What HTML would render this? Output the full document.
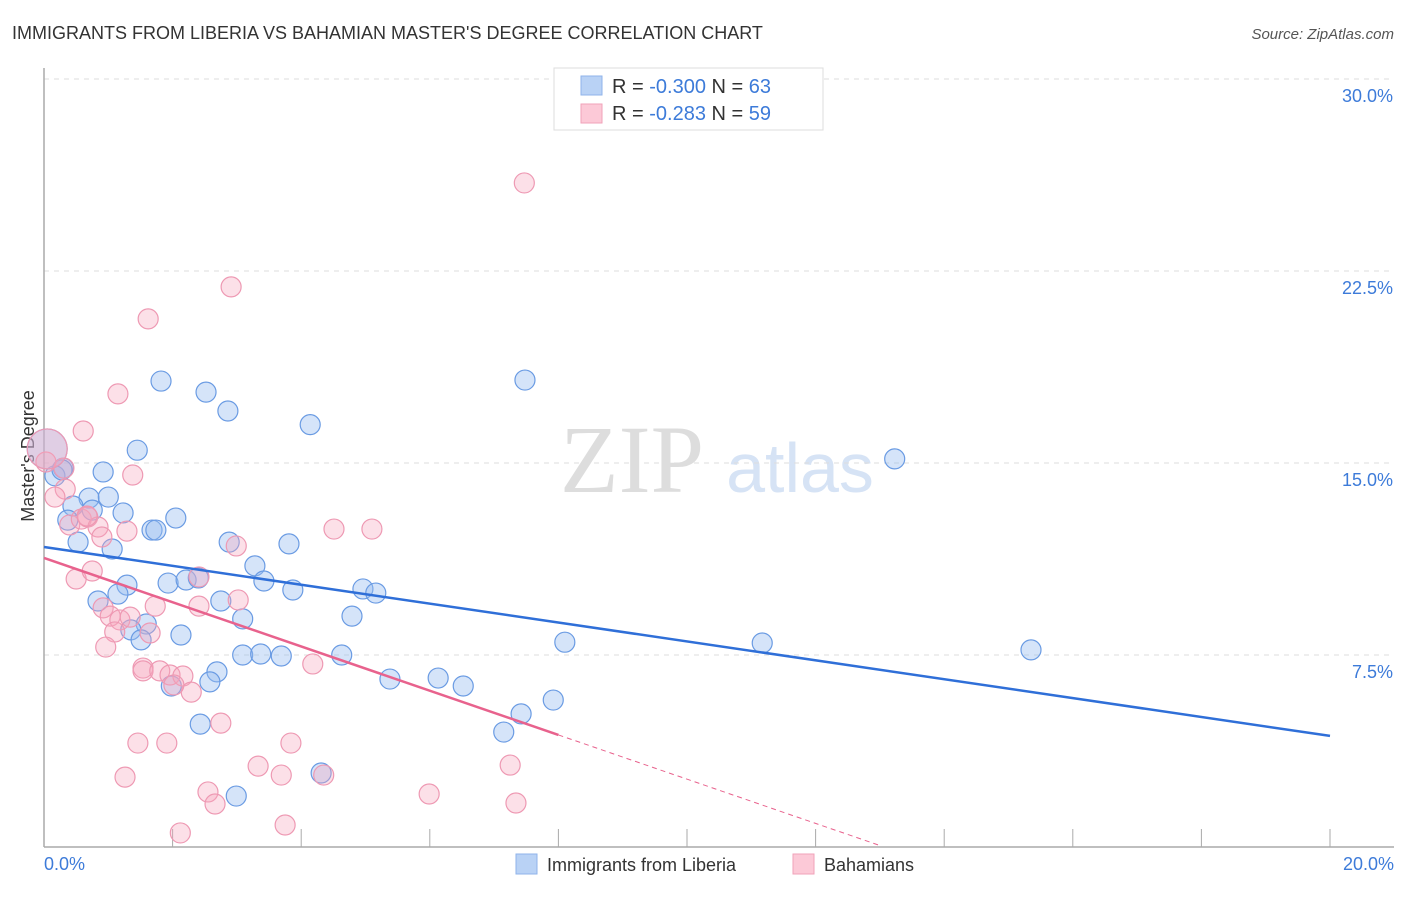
<!DOCTYPE html>
<html><head><meta charset="utf-8"><style>
body{margin:0;background:#fff;font-family:"Liberation Sans",sans-serif}
</style></head><body>
<svg width="1406" height="892" xmlns="http://www.w3.org/2000/svg" id="chart">
<text x="12" y="39" font-size="18" fill="#333">IMMIGRANTS FROM LIBERIA VS BAHAMIAN MASTER'S DEGREE CORRELATION CHART</text>
<text x="1394" y="39" font-size="15" fill="#555" font-style="italic" text-anchor="end">Source: ZipAtlas.com</text>
<text transform="translate(34,456) rotate(-90)" font-size="18" fill="#333" text-anchor="middle">Master's Degree</text>
<text x="632" y="492" font-size="96" fill="#ddd" font-family="Liberation Serif,serif" text-anchor="middle">ZIP</text>
<text x="800" y="492" font-size="70" fill="#d6e3f5" text-anchor="middle">atlas</text>
<g id="grid"></g><g id="pts"></g><g id="lines"></g>
<g>
<rect x="554" y="68" width="269" height="62" fill="#fff" stroke="#ddd"/>
<rect x="581" y="76" width="21" height="19" fill="#b9d2f5" stroke="#8fb3ea"/>
<rect x="581" y="104" width="21" height="19" fill="#fcc9d7" stroke="#f0a2b9"/>
<text x="612" y="93" font-size="20" fill="#333">R = <tspan fill="#3d7bd9">-0.300</tspan>   N = <tspan fill="#3d7bd9">63</tspan></text>
<text x="612" y="120" font-size="20" fill="#333">R =  <tspan fill="#3d7bd9">-0.283</tspan>   N = <tspan fill="#3d7bd9">59</tspan></text>
</g>
<g>
<rect x="516" y="854" width="21" height="20" fill="#b9d2f5" stroke="#8fb3ea"/>
<text x="547" y="871" font-size="18" fill="#333">Immigrants from Liberia</text>
<rect x="793" y="854" width="21" height="20" fill="#fcc9d7" stroke="#f0a2b9"/>
<text x="824" y="871" font-size="18" fill="#333">Bahamians</text>
</g>
</svg>
<script>
const yTicks=[7.5,15.0,22.5,30.0];
const xTickLabels=["0.0%","20.0%"];
const blueX=[1.82,2.52,2.86,1.45,4.14,7.48,13.23,0.92,0.30,0.17,0.70,1.0,0.45,0.75,1.23,0.37,2.05,1.68,1.74,0.53,1.06,2.88,3.81,3.28,1.29,1.93,2.21,2.40,3.42,3.87,4.96,5.16,1.15,0.84,2.75,4.79,3.09,1.59,1.35,1.51,2.13,8.10,11.17,15.35,3.09,3.37,3.69,4.63,2.69,2.58,5.38,6.13,6.52,7.92,1.98,7.42,2.43,7.15,4.31,2.99,0.28,0.05];
const blueY=[18.2,17.77,17.03,15.5,16.5,18.24,15.16,14.65,14.8,14.5,13.63,13.67,13.32,13.16,13.05,12.77,12.85,12.38,12.38,11.91,11.64,11.91,11.84,10.98,10.23,10.31,10.43,10.51,10.39,10.04,10.08,9.92,9.88,9.61,9.61,9.02,8.91,8.71,8.48,8.09,8.28,8.0,7.97,7.70,7.5,7.54,7.46,7.5,6.84,6.45,6.56,6.60,6.29,5.74,6.29,5.2,4.8,4.49,2.89,1.99,14.73,15.55];
const pinkX=[7.47,2.91,1.62,1.15,0.61,0.03,0.31,0.33,0.17,0.40,0.58,0.68,0.84,0.90,1.29,0.67,1.38,4.51,5.10,2.99,0.50,0.75,2.41,1.73,2.41,3.02,0.92,1.03,1.18,1.34,1.65,1.10,0.96,4.18,1.54,1.54,1.80,1.96,2.16,2.29,2.02,2.75,1.46,1.91,3.84,3.33,1.26,3.69,4.35,7.25,2.55,2.66,5.99,7.34,2.12,3.75,0.05];
const pinkY=[25.94,21.88,20.63,17.7,16.25,15.04,14.8,13.98,13.67,12.58,12.81,12.89,12.5,12.11,12.34,12.93,14.53,12.42,12.42,11.76,10.47,10.78,10.55,9.41,9.41,9.65,9.34,9.02,8.87,8.98,8.36,8.4,7.81,7.15,6.99,6.88,6.88,6.72,6.68,6.05,6.33,4.84,4.06,4.06,4.06,3.16,2.73,2.81,2.81,3.2,2.15,1.68,2.07,1.72,0.55,0.86,15.55];
const blueTrend=[11.72,4.34];
const pinkTrend=[11.29,-0.864];
const X0=44,X1=1330,Y0=847,PY=25.6;
const sx=v=>X0+(X1-X0)*v/20, sy=v=>Y0-v*PY;
const NS="http://www.w3.org/2000/svg";
function mk(t,a,p){const e=document.createElementNS(NS,t);for(const k in a)e.setAttribute(k,a[k]);p.appendChild(e);return e;}
const grid=document.getElementById('grid');
yTicks.forEach(t=>{
 const l=mk('line',{x1:44,x2:1394,y1:sy(t),y2:sy(t),stroke:'#ddd','stroke-dasharray':'5,5'},grid);
 
 
 const tx=mk('text',{x:1393,y:sy(t)+23,'font-size':18,fill:'#3d7bd9','text-anchor':'end'},grid);
 tx.textContent=t.toFixed(1)+'%';
 
 
});
let ax=mk('line',{x1:44,x2:44,y1:68,y2:847,stroke:'#aaa','stroke-width':1.5},grid);


ax=mk('line',{x1:44,x2:1394,y1:847,y2:847,stroke:'#aaa','stroke-width':1.5},grid);


for(let i=0;i<=10;i++){const t=mk('line',{x1:sx(i*2),x2:sx(i*2),y1:829,y2:847,stroke:'#aaa'},grid);
 
 }
[[0,44,'start'],[20,1394,'end']].forEach((d,i)=>{const t=mk('text',{x:d[1],y:870,'font-size':18,fill:'#3d7bd9','text-anchor':d[2]},grid);t.textContent=xTickLabels[i];
 
 });
const pts=document.getElementById('pts');
blueX.forEach((x,i)=>{const big=i===blueX.length-1;const c=mk('circle',{cx:sx(x),cy:sy(blueY[i]),r:big?20:10,fill:'rgba(150,188,240,0.4)',stroke:'#6a9be3','stroke-width':1.2},pts);
 
 });
pinkX.forEach((x,i)=>{const big=i===pinkX.length-1;const c=mk('circle',{cx:sx(x),cy:sy(pinkY[i]),r:big?20:10,fill:'rgba(246,165,190,0.35)',stroke:'#ee99b3','stroke-width':1.2},pts);
 
 });
const lines=document.getElementById('lines');
let l=mk('line',{x1:sx(0),y1:sy(blueTrend[0]),x2:sx(20),y2:sy(blueTrend[1]),stroke:'#2f6fd8','stroke-width':2.5},lines);


const pe=8.0,pd=13.0;
l=mk('line',{x1:sx(0),y1:sy(pinkTrend[0]),x2:sx(pe),y2:sy(pinkTrend[0]+pinkTrend[1]*pe),stroke:'#e8628d','stroke-width':2.5},lines);


l=mk('line',{x1:sx(pe),y1:sy(pinkTrend[0]+pinkTrend[1]*pe),x2:sx(pd),y2:sy(pinkTrend[0]+pinkTrend[1]*pd),stroke:'#e8628d','stroke-width':1,'stroke-dasharray':'5,4'},lines);


</script>
</body></html>
